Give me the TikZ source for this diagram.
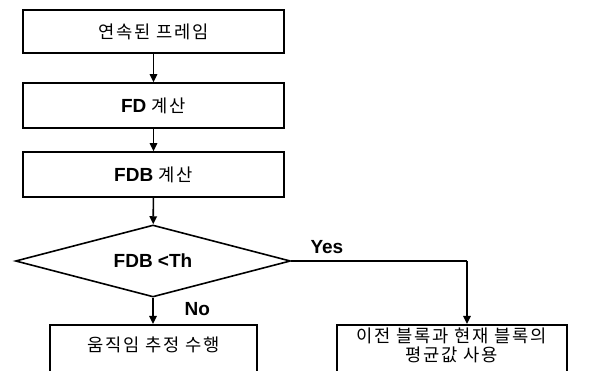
\documentclass[tikz,border=0pt]{standalone}
\usepackage{fontspec}
\setmainfont{Liberation Sans}
\newfontfamily\kr[Scale=0.93,LetterSpace=10]{Noto Sans CJK KR}
\usetikzlibrary{shapes.geometric,arrows.meta}
\begin{document}
\begin{tikzpicture}[x=1pt,y=-1pt,
  every node/.style={font=\fontsize{19}{19}\selectfont},
  box/.style={draw,line width=1.6pt,rectangle,inner sep=0pt,minimum width=261pt},
  arr/.style={line width=1.6pt,-{Triangle[length=8pt,width=7.5pt]}},
  lnk/.style={line width=1.6pt}]
\useasboundingbox (0,0) rectangle (598,371);
\clip (0,0) rectangle (598,371);
\fill[white] (0,0) rectangle (598,371);
\node[box,minimum height=43pt] (b1) at (153.5,31.5) {\kr 연속된 프레임};
\node[box,minimum height=45pt] (b2) at (153.5,105.5) {\textbf{FD} {\kr 계산}};
\node[box,minimum height=45pt] (b3) at (153.5,174.5) {\textbf{FDB} {\kr 계산}};
\node[draw,diamond,line width=1.6pt,inner sep=0pt,minimum width=275pt,minimum height=72pt,aspect=3.8] (d) at (153,261) {\textbf{FDB <Th}};
\node[box,minimum width=207pt,minimum height=70pt,anchor=north] (b4) at (153.5,324) {};
\node (t4) at ([yshift=-21pt]b4.north) {\kr 움직임 추정 수행};
\node[box,minimum width=230pt,minimum height=70pt,anchor=north] (b5) at (452,324) {};
\node[align=center,font=\fontsize{19}{18.5}\selectfont] (t5) at ([yshift=-21.5pt]b5.north) {\kr 이전 블록과 현재 블록의\\\kr 평균값 사용};
\coordinate (c1) at (467,261);
\draw[arr] (b1) -- (b2);
\draw[arr] (b2) -- (b3);
\draw[arr] (b3) -- (d);
\draw[arr] (d.south) -- (d.south |- b4.north);
\draw[lnk] (d.east) -- (c1);
\draw[arr] (c1) -- (c1 |- b5.north);
\node[anchor=base west] (yes) at (307,254) {\textbf{Yes}};
\node[anchor=base west] (no) at (181,316) {\textbf{No}};
\end{tikzpicture}
\end{document}
